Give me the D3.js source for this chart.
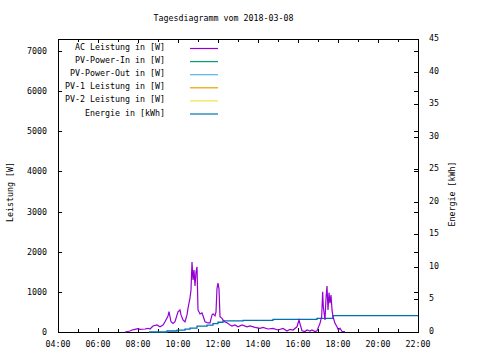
<!DOCTYPE html>
<html><head><meta charset="utf-8">
<script src="https://cdn.jsdelivr.net/npm/d3@7"></script>
<style>body{margin:0;background:#fff}svg{display:block}text{font-family:"DejaVu Sans Mono",monospace;font-size:8.3px;fill:#000}</style>
</head><body><svg id="c" width="480" height="360"></svg>
<script>
const title = "Tagesdiagramm vom 2018-03-08";
const xTickLabels = ["04:00","06:00","08:00","10:00","12:00","14:00","16:00","18:00","20:00","22:00"];
const yTicks = [0,1000,2000,3000,4000,5000,6000,7000];
const y2Ticks = [0,5,10,15,20,25,30,35,40,45];
const legendNames = ["AC Leistung in [W]","PV-Power-In in [W]","PV-Power-Out in [W]","PV-1 Leistung in [W]","PV-2 Leistung in [W]","Energie in [kWh]"];
const legendColors = ["#9400d3","#009e73","#56b4e9","#e69f00","#f0e442","#0072b2"];
const acTimes = ["07:21","07:36","07:42","07:51","08:00","08:06","08:21","08:30","08:36","08:45","08:57","09:06","09:15","09:21","09:30","09:33","09:39","09:45","09:51","10:00","10:06","10:09","10:15","10:21","10:27","10:30","10:36","10:39","10:42","10:45","10:48","10:51","10:54","10:57","11:00","11:06","11:12","11:16","11:21","11:30","11:36","11:42","11:45","11:51","11:54","11:57","12:00","12:03","12:06","12:12","12:15","12:21","12:27","12:30","12:36","12:42","12:51","13:00","13:12","13:27","13:36","13:51","14:06","14:15","14:30","14:45","15:00","15:15","15:27","15:36","15:45","15:57","16:03","16:07","16:12","16:21","16:27","16:36","16:42","16:51","16:57","17:00","17:06","17:11","17:14","17:16","17:21","17:24","17:27","17:30","17:33","17:36","17:39","17:42","17:45","17:51","17:57","18:01","18:06","18:12","18:21"];
const acWatts = [0,25,50,67,82,67,75,92,75,150,175,130,175,255,400,510,255,215,255,505,550,425,300,250,425,590,850,1045,1745,1295,1545,1145,1495,1625,550,450,475,380,255,225,225,425,450,400,500,1090,1220,1070,380,340,300,250,230,215,175,150,175,130,175,130,150,115,92,115,75,92,50,87,25,67,50,130,300,175,32,12,50,25,50,12,32,92,215,380,1000,630,300,840,1145,550,980,715,920,550,380,215,130,50,92,12,8];
const enTimes = ["08:33","09:27","09:57","10:21","10:36","10:57","11:27","11:45","12:00","12:15","13:15","14:45","16:57","17:45","22:00"];
const enKWh = [0,0.15,0.3,0.45,0.6,0.9,1.07,1.3,1.5,1.7,1.8,1.95,2.1,2.5,2.5];

const toH = s => { const [h,m] = s.split(":").map(Number); return h + m/60; };
const svg = d3.select("#c");
const L=58, R=418, T=39, B=332;
const x = d3.scaleLinear().domain([4,22]).range([L,R]);
const y = d3.scaleLinear().domain([0,7300]).range([B,T]);
const y2 = d3.scaleLinear().domain([0,45]).range([B,T]);
const hourTicks = d3.range(4,23,1);

// ticks
const g = svg.append("g").attr("stroke","#000").attr("stroke-width",1).attr("shape-rendering","crispEdges");
hourTicks.forEach(h=>{
  const len = h%2===0?4:3;
  g.append("line").attr("x1",Math.round(x(h))+0.5).attr("x2",Math.round(x(h))+0.5).attr("y1",B).attr("y2",B-len);
  g.append("line").attr("x1",Math.round(x(h))+0.5).attr("x2",Math.round(x(h))+0.5).attr("y1",T).attr("y2",T+len);
});
yTicks.forEach(v=>{
  const yy=Math.round(y(v))+0.5;
  g.append("line").attr("x1",L).attr("x2",L+4).attr("y1",yy).attr("y2",yy);
  g.append("line").attr("x1",R).attr("x2",R-4).attr("y1",yy).attr("y2",yy);
});
y2Ticks.forEach(v=>{
  const yy=Math.round(y2(v))+0.5;
  g.append("line").attr("x1",R).attr("x2",R-4).attr("y1",yy).attr("y2",yy);
});
svg.append("rect").attr("x",L+0.5).attr("y",T+0.5).attr("width",R-L).attr("height",B-T)
  .attr("fill","none").attr("stroke","#000").attr("shape-rendering","crispEdges");

// tick labels
xTickLabels.forEach(s=>{
  svg.append("text").attr("x",x(toH(s))).attr("y",344).attr("text-anchor","middle").attr("dominant-baseline","central").text(s);
});
yTicks.forEach(v=>{
  svg.append("text").attr("x",47).attr("y",y(v)).attr("text-anchor","end").attr("dominant-baseline","central").text(v);
});
y2Ticks.forEach(v=>{
  svg.append("text").attr("x",429).attr("y",y2(v)-1).attr("text-anchor","start").attr("dominant-baseline","central").text(v);
});
svg.append("text").attr("x",223.5).attr("y",18).attr("text-anchor","middle").attr("dominant-baseline","central").text(title);
svg.append("text").attr("transform","translate(10,192) rotate(-90)").attr("text-anchor","middle").attr("dominant-baseline","central").text("Leistung [W]");
svg.append("text").attr("transform","translate(452,194) rotate(-90)").attr("text-anchor","middle").attr("dominant-baseline","central").text("Energie [kWh]");

// series
const acData = acTimes.map((t,i)=>({h:toH(t),v:acWatts[i]}));
const enData = enTimes.map((t,i)=>({h:toH(t),v:enKWh[i]}));
svg.append("path").datum(enData).attr("fill","none").attr("stroke",legendColors[5]).attr("stroke-width",1.3)
  .attr("d",d3.line().x(d=>x(d.h)).y(d=>y2(d.v)).curve(d3.curveStepAfter));
svg.append("path").datum(acData).attr("fill","none").attr("stroke",legendColors[0]).attr("stroke-width",1.2)
  .attr("d",d3.line().x(d=>x(d.h)).y(d=>y(d.v)));

// legend
legendNames.forEach((n,i)=>{
  const yy = 48.5 + i*13.1;
  svg.append("text").attr("x",165).attr("y",yy-1.5).attr("text-anchor","end").attr("dominant-baseline","central").text(n);
  svg.append("line").attr("x1",190).attr("x2",218).attr("y1",yy).attr("y2",yy).attr("stroke",legendColors[i]).attr("stroke-width",1.2);
});
</script></body></html>
